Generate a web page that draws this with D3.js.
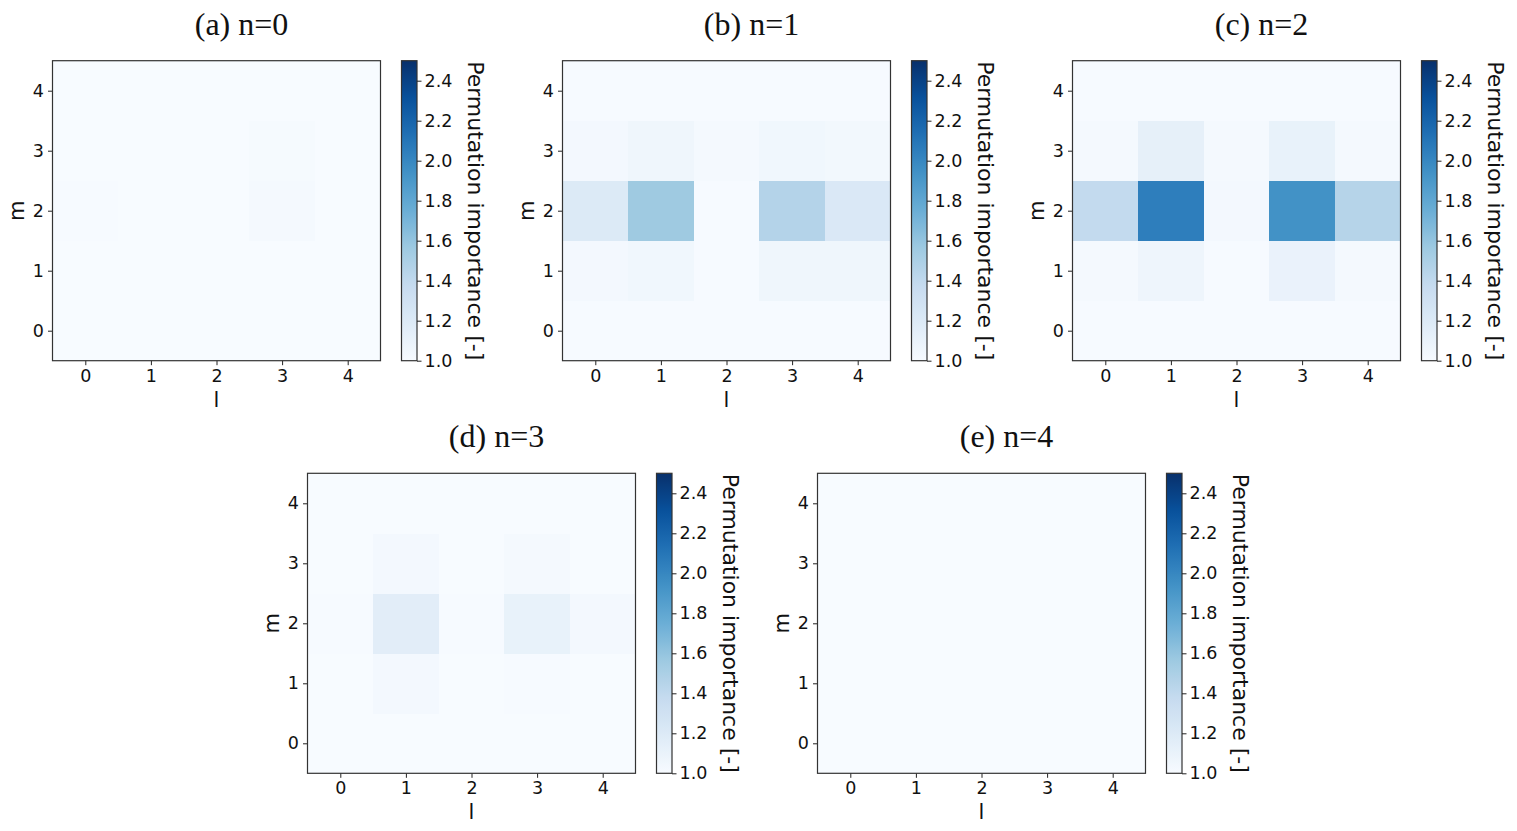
<!DOCTYPE html>
<html>
<head>
<meta charset="utf-8">
<script src="https://cdn.jsdelivr.net/npm/d3@7/dist/d3.min.js"></script>
<style>
  html, body { margin: 0; padding: 0; background: #fff; }
  svg { display: block; }
  .tick text { font-family: "DejaVu Sans", sans-serif; }
</style>
</head>
<body>
<svg id="chart" width="1517" height="831"></svg>
<script>
// ---------- data ----------
const lValues = [0, 1, 2, 3, 4];          // x categories (l)
const mValues = [0, 1, 2, 3, 4];          // y categories (m)
const panelTitles = ["(a) n=0", "(b) n=1", "(c) n=2", "(d) n=3", "(e) n=4"];
const colorbarTicks = [1.0, 1.2, 1.4, 1.6, 1.8, 2.0, 2.2, 2.4];
const colorDomain = [1.0, 2.5];
const colorbarLabel = "Permutation importance [-]";

// each panel: rows indexed by m (0..4), columns by l (0..4)
const importanceN0 = [
  [1.00, 1.00, 1.00, 1.00, 1.00],
  [1.00, 1.00, 1.00, 1.00, 1.00],
  [1.01, 1.00, 1.00, 1.02, 1.00],
  [1.00, 1.00, 1.00, 1.015, 1.00],
  [1.00, 1.00, 1.00, 1.00, 1.00]
];
const importanceN1 = [
  [1.01, 1.01, 1.01, 1.01, 1.01],
  [1.03, 1.05, 1.01, 1.06, 1.06],
  [1.20, 1.56, 1.01, 1.46, 1.22],
  [1.03, 1.06, 1.02, 1.05, 1.04],
  [1.01, 1.01, 1.01, 1.01, 1.01]
];
const importanceN2 = [
  [1.01, 1.01, 1.01, 1.01, 1.01],
  [1.02, 1.07, 1.01, 1.10, 1.02],
  [1.39, 2.05, 1.03, 1.94, 1.45],
  [1.02, 1.13, 1.02, 1.11, 1.02],
  [1.01, 1.01, 1.01, 1.01, 1.01]
];
const importanceN3 = [
  [1.00, 1.00, 1.00, 1.00, 1.00],
  [1.00, 1.03, 1.00, 1.01, 1.00],
  [1.01, 1.16, 1.01, 1.11, 1.03],
  [1.00, 1.03, 1.00, 1.02, 1.00],
  [1.00, 1.00, 1.00, 1.00, 1.00]
];
const importanceN4 = [
  [1.00, 1.00, 1.00, 1.00, 1.00],
  [1.00, 1.00, 1.00, 1.00, 1.00],
  [1.00, 1.00, 1.00, 1.00, 1.00],
  [1.00, 1.00, 1.00, 1.00, 1.00],
  [1.00, 1.00, 1.00, 1.00, 1.00]
];
const panelsData = [importanceN0, importanceN1, importanceN2, importanceN3, importanceN4];

// ---------- layout ----------
const panelPos = [
  {x: 52.5,  y: 60.7},
  {x: 562.5, y: 60.7},
  {x: 1072.5, y: 60.7},
  {x: 307.5, y: 473.3},
  {x: 817.5, y: 473.3}
];
const W = 328, H = 300;
const cbGap = 21, cbW = 15.5;

// matplotlib Blues (linear segmented over ColorBrewer 9 colours)
const bluesStops = ["#f7fbff","#deebf7","#c6dbef","#9ecae1","#6baed6","#4292c6","#2171b5","#08519c","#08306b"];
const color = d3.scaleLinear()
  .domain(d3.range(9).map(i => colorDomain[0] + i * (colorDomain[1] - colorDomain[0]) / 8))
  .range(bluesStops)
  .interpolate(d3.interpolateRgb)
  .clamp(true);

const svg = d3.select("#chart");
const defs = svg.append("defs");
const grad = defs.append("linearGradient").attr("id", "cbgrad")
  .attr("x1", 0).attr("y1", 1).attr("x2", 0).attr("y2", 0);
d3.range(0, 1.0001, 0.02).forEach(t => {
  grad.append("stop").attr("offset", t)
    .attr("stop-color", color(colorDomain[0] + t * (colorDomain[1] - colorDomain[0])));
});

panelsData.forEach((data, pi) => {
  const p = panelPos[pi];
  const g = svg.append("g").attr("transform", `translate(${p.x},${p.y})`);
  const x = d3.scaleLinear().domain([-0.5, 4.5]).range([0, W]);
  const y = d3.scaleLinear().domain([-0.5, 4.5]).range([H, 0]);

  const cells = [];
  mValues.forEach((m, mi) => lValues.forEach((l, li) => cells.push({l, m, v: data[mi][li]})));
  g.selectAll("rect.cell").data(cells).join("rect")
    .attr("class", "cell")
    .attr("x", d => x(d.l - 0.5))
    .attr("y", d => y(d.m + 0.5))
    .attr("width", d => x(d.l + 0.5) - x(d.l - 0.5) + 0.5)
    .attr("height", d => y(d.m - 0.5) - y(d.m + 0.5) + 0.5)
    .attr("fill", d => color(d.v))
    .attr("shape-rendering", "crispEdges");

  const xAxis = g.append("g").attr("transform", `translate(0,${H})`)
    .call(d3.axisBottom(x).tickValues(lValues).tickFormat(d3.format("d")).tickSize(4.5).tickPadding(4));
  const yAxis = g.append("g")
    .call(d3.axisLeft(y).tickValues(mValues).tickFormat(d3.format("d")).tickSize(4.5).tickPadding(4));
  [xAxis, yAxis].forEach(a => {
    a.select(".domain").remove();
    a.selectAll(".tick line").attr("stroke", "#222").attr("stroke-width", 1);
    a.selectAll(".tick text").attr("font-size", 17.5).attr("fill", "#111");
  });

  g.append("rect").attr("x", 0).attr("y", 0).attr("width", W).attr("height", H)
    .attr("fill", "none").attr("stroke", "#333").attr("stroke-width", 1.2);

  g.append("text").attr("x", W / 2).attr("y", H + 46)
    .attr("text-anchor", "middle")
    .attr("font-family", "DejaVu Sans, sans-serif").attr("font-size", 21).attr("fill", "#111")
    .text("l");
  g.append("text")
    .attr("transform", `translate(${-29},${H / 2}) rotate(-90)`)
    .attr("text-anchor", "middle")
    .attr("font-family", "DejaVu Sans, sans-serif").attr("font-size", 21).attr("fill", "#111")
    .text("m");

  g.append("text").attr("x", W / 2 + 25).attr("y", -26)
    .attr("text-anchor", "middle")
    .attr("font-family", "Liberation Serif, Times New Roman, serif").attr("font-size", 32).attr("fill", "#111")
    .text(panelTitles[pi]);

  // colorbar
  const cb = g.append("g").attr("transform", `translate(${W + cbGap},0)`);
  const cy = d3.scaleLinear().domain(colorDomain).range([H, 0]);
  cb.append("rect").attr("width", cbW).attr("height", H).attr("fill", "url(#cbgrad)");
  cb.append("rect").attr("width", cbW).attr("height", H)
    .attr("fill", "none").attr("stroke", "#333").attr("stroke-width", 1.2);
  const cbAxis = cb.append("g").attr("transform", `translate(${cbW},0)`)
    .call(d3.axisRight(cy).tickValues(colorbarTicks).tickFormat(d3.format(".1f")).tickSize(4.5).tickPadding(3));
  cbAxis.select(".domain").remove();
  cbAxis.selectAll(".tick line").attr("stroke", "#222");
  cbAxis.selectAll(".tick text").attr("font-size", 17.5).attr("fill", "#111");
  cb.append("text")
    .attr("transform", `translate(${cbW + 51},${H / 2}) rotate(90)`)
    .attr("text-anchor", "middle")
    .attr("font-family", "DejaVu Sans, sans-serif").attr("font-size", 22).attr("fill", "#111")
    .text(colorbarLabel);
});
</script>
</body>
</html>
